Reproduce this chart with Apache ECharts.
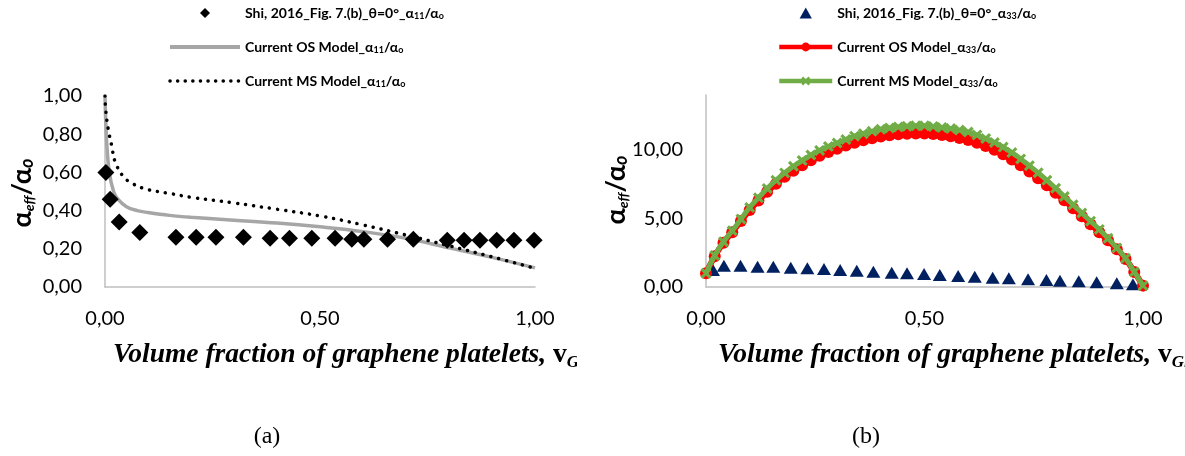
<!DOCTYPE html>
<html><head><meta charset="utf-8">
<script src="https://cdn.jsdelivr.net/npm/echarts@6/dist/echarts.min.js"></script>
<style>html,body{margin:0;padding:0;background:#fff}#c{width:1185px;height:456px}</style>
</head><body><div id="c"></div><script>
// ---------- DATA: panel (a) ----------
const xShiA = [0.002,0.012,0.033,0.081,0.165,0.212,0.258,0.322,0.384,0.429,0.481,0.535,0.574,0.602,0.657,0.717,0.796,0.835,0.872,0.911,0.951,0.998];
const yShiA = [0.60,0.46,0.34,0.285,0.26,0.26,0.26,0.26,0.255,0.255,0.255,0.255,0.25,0.25,0.25,0.25,0.245,0.245,0.245,0.245,0.245,0.245];
const xOSA = [0,0.002,0.005,0.01,0.02,0.03,0.05,0.075,0.1,0.15,0.2,0.3,0.4,0.5,0.6,0.7,0.8,0.9,1.0];
const yOSA = [1.0,0.85,0.72,0.60,0.50,0.46,0.42,0.40,0.39,0.375,0.365,0.35,0.335,0.315,0.29,0.255,0.205,0.155,0.10];
const xMSA = [0,0.002,0.008,0.016,0.023,0.042,0.065,0.1,0.15,0.2,0.3,0.4,0.5,0.6,0.7,0.8,0.9,1.0];
const yMSA = [1.0,0.92,0.82,0.735,0.66,0.58,0.54,0.51,0.49,0.47,0.44,0.407,0.372,0.325,0.272,0.216,0.158,0.098];
// ---------- DATA: panel (b) ----------
const xShiB = [0.016,0.041,0.079,0.118,0.154,0.194,0.232,0.27,0.307,0.345,0.383,0.425,0.46,0.499,0.535,0.577,0.615,0.656,0.693,0.737,0.779,0.81,0.853,0.894,0.94,0.977];
const yShiB = [1.24,1.55,1.55,1.48,1.48,1.41,1.36,1.31,1.24,1.19,1.12,1.04,1.0,0.95,0.88,0.80,0.75,0.68,0.63,0.56,0.51,0.46,0.42,0.34,0.27,0.20];
const xModelB = [0,0.02,0.04,0.06,0.08,0.10,0.12,0.14,0.16,0.18,0.20,0.22,0.24,0.26,0.28,0.30,0.32,0.34,0.36,0.38,0.40,0.42,0.44,0.46,0.48,0.50,0.52,0.54,0.56,0.58,0.60,0.62,0.64,0.66,0.68,0.70,0.72,0.74,0.76,0.78,0.80,0.82,0.84,0.86,0.88,0.90,0.92,0.94,0.96,0.98,1.00];
const yOSB = [1.00,2.25,3.22,4.00,4.82,5.62,6.30,6.95,7.52,8.03,8.48,8.88,9.25,9.57,9.85,10.08,10.31,10.52,10.70,10.85,10.98,11.07,11.14,11.18,11.20,11.19,11.15,11.08,10.99,10.87,10.72,10.52,10.28,10.00,9.68,9.30,8.88,8.42,7.93,7.42,6.88,6.32,5.75,5.16,4.58,4.00,3.40,2.75,2.05,1.10,0.10];
const yMSB = [1.00,2.30,3.30,4.10,4.95,5.80,6.50,7.18,7.78,8.32,8.80,9.22,9.62,9.96,10.25,10.50,10.75,11.00,11.18,11.35,11.50,11.59,11.67,11.72,11.75,11.75,11.70,11.63,11.55,11.44,11.30,11.08,10.83,10.54,10.20,9.80,9.34,8.85,8.33,7.78,7.20,6.60,6.00,5.40,4.80,4.20,3.55,2.85,2.10,1.10,0.10];
// ---------- ticks & names ----------
const xTicks = [0, 0.5, 1];
const yTicksA = [0, 0.2, 0.4, 0.6, 0.8, 1.0];
const yTicksB = [0, 5, 10];
const namesA = ['Shi, 2016_Fig. 7.(b)_θ=0°_α11/αo','Current OS Model_α11/αo','Current MS Model_α11/αo'];
const namesB = ['Shi, 2016_Fig. 7.(b)_θ=0°_α33/αo','Current OS Model_α33/αo','Current MS Model_α33/αo'];

const zip = (xs, ys) => xs.map((x, i) => [x, ys[i]]);
const fmt2 = v => v.toFixed(2).replace('.', ',');
const FONT = 'Lato, "Liberation Sans", sans-serif';
const SERIF = '"Liberation Serif", "DejaVu Serif", serif';
const legendFmt = n => n.replace(/α(\d\d)\/αo$/, 'α{s|$1}/α{s|o}');
const legendText = {fontFamily: FONT, fontWeight: 'bold', fontSize: 14, color: '#000', lineHeight: 16,
  rich: {s: {fontFamily: FONT, fontWeight: 'bold', fontSize: 9, lineHeight: 16, verticalAlign: 'bottom', padding: [5,0,0,0]}}};
const axisLineStyle = {show: true, lineStyle: {color: '#BFBFBF', width: 1.5}};
const lbl = {fontFamily: FONT, fontSize: 20, color: '#000'};

const chart = echarts.init(document.getElementById('c'), null, {renderer: 'canvas'});
const crossPath = 'path://M2,0 L5,3 L8,0 L10,2 L7,5 L10,8 L8,10 L5,7 L2,10 L0,8 L3,5 L0,2 Z';
const diamondPath = 'path://M5,0 L10,5 L5,10 L0,5 Z';
const trianglePath = 'path://M5,0 L10,9 L0,9 Z';

const yTitle = (x, y) => ({type: 'text', x: x, y: y, rotation: Math.PI / 2, z: 10,
  style: {text: '{a|α}{e|eff}{a|/α}{o|o}', align: 'center', verticalAlign: 'middle', fill: '#000',
    rich: {a: {fontFamily: FONT, fontSize: 27, fontWeight: 'bold', fill: '#000', lineHeight: 28},
           e: {fontFamily: FONT, fontSize: 14, fontWeight: 'bold', fontStyle: 'italic', fill: '#000', lineHeight: 28, verticalAlign: 'bottom', padding: [8,0,0,0]},
           o: {fontFamily: FONT, fontSize: 18, fontWeight: 'bold', fontStyle: 'italic', fill: '#000', lineHeight: 28, verticalAlign: 'bottom', padding: [4,0,0,0]}}}});
const xTitle = (x, y) => ({type: 'text', x: x, y: y, z: 10,
  style: {text: 'Volume fraction of graphene platelets, {v|v}{g|Gi}', align: 'left', verticalAlign: 'middle', fill: '#000',
    fontFamily: SERIF, fontSize: 27.5, fontWeight: 'bold', fontStyle: 'italic', lineHeight: 32,
    rich: {v: {fontFamily: SERIF, fontSize: 27.5, fontWeight: 'bold', fontStyle: 'normal', fill: '#000', lineHeight: 32},
           g: {fontFamily: SERIF, fontSize: 17, fontWeight: 'bold', fontStyle: 'italic', fill: '#000', lineHeight: 32, verticalAlign: 'bottom', padding: [12,0,0,0]}}}});

const hideSym = {opacity: 0};
chart.setOption({
  animation: false,
  backgroundColor: '#fff',
  grid: [
    {left: 105, top: 96, width: 430, height: 191, containLabel: false},
    {left: 706, top: 95, width: 437, height: 192, containLabel: false}
  ],
  legend: [
    {data: [{name: namesA[0], icon: diamondPath},
            {name: namesA[1], itemStyle: hideSym, lineStyle: {width: 4, color: '#A6A6A6'}},
            {name: namesA[2], itemStyle: hideSym, lineStyle: {width: 3.5, color: '#000', type: [0.1, 7.5], cap: 'round'}}],
     orient: 'vertical', left: 168, top: 5, padding: 0, itemWidth: 70, itemHeight: 10, itemGap: 18, symbolKeepAspect: true,
     formatter: legendFmt, textStyle: legendText},
    {data: [{name: namesB[0], icon: trianglePath},
            {name: namesB[1], lineStyle: {width: 4.5, color: '#FF0000'}},
            {name: namesB[2], lineStyle: {width: 4.5, color: '#70AD47'}}],
     orient: 'vertical', left: 777, top: 5, padding: 0, itemWidth: 53, itemHeight: 11, itemGap: 18, symbolKeepAspect: true,
     formatter: legendFmt, textStyle: legendText}
  ],
  xAxis: [
    {type: 'value', gridIndex: 0, min: 0, max: 1, interval: 0.5, axisLine: axisLineStyle, axisTick: {show: false}, splitLine: {show: false},
     axisLabel: Object.assign({margin: 22, formatter: fmt2, customValues: xTicks}, lbl)},
    {type: 'value', gridIndex: 1, min: 0, max: 1, interval: 0.5, axisLine: axisLineStyle, axisTick: {show: false}, splitLine: {show: false},
     axisLabel: Object.assign({margin: 22, formatter: fmt2, customValues: xTicks}, lbl)}
  ],
  yAxis: [
    {type: 'value', gridIndex: 0, min: 0, max: 1, interval: 0.2, axisLine: axisLineStyle, axisTick: {show: false}, splitLine: {show: false},
     axisLabel: Object.assign({margin: 23, formatter: fmt2, customValues: yTicksA}, lbl)},
    {type: 'value', gridIndex: 1, min: 0, max: 14, interval: 5, axisLine: axisLineStyle, axisTick: {show: false}, splitLine: {show: false},
     axisLabel: Object.assign({margin: 23, formatter: fmt2, customValues: yTicksB}, lbl)}
  ],
  series: [
    {name: namesA[1], type: 'line', xAxisIndex: 0, yAxisIndex: 0, data: zip(xOSA, yOSA), smooth: 0.4, symbol: 'none',
     lineStyle: {color: '#A6A6A6', width: 3.5}, itemStyle: {color: '#A6A6A6'}, z: 2},
    {name: namesA[2], type: 'line', xAxisIndex: 0, yAxisIndex: 0, data: zip(xMSA, yMSA), smooth: 0.4, symbol: 'none',
     lineStyle: {color: '#000', width: 3.5, type: [0.1, 8], cap: 'round'}, itemStyle: {color: '#000'}, z: 3},
    {name: namesA[0], type: 'scatter', xAxisIndex: 0, yAxisIndex: 0, data: zip(xShiA, yShiA), symbol: 'diamond', symbolSize: 17,
     itemStyle: {color: '#000', opacity: 1}, z: 4},
    {name: namesB[0], type: 'scatter', xAxisIndex: 1, yAxisIndex: 1, data: zip(xShiB, yShiB), symbol: 'triangle', symbolSize: [14, 12],
     itemStyle: {color: '#002060', opacity: 1}, z: 2},
    {name: namesB[1], type: 'line', xAxisIndex: 1, yAxisIndex: 1, data: zip(xModelB, yOSB), smooth: true, symbol: 'circle', symbolSize: 12, showAllSymbol: true,
     lineStyle: {color: '#FF0000', width: 6}, itemStyle: {color: '#FF0000'}, z: 3},
    {name: namesB[2], type: 'line', xAxisIndex: 1, yAxisIndex: 1, data: zip(xModelB, yMSB), smooth: true, symbol: crossPath, symbolSize: 11, showAllSymbol: true,
     lineStyle: {color: '#70AD47', width: 5}, itemStyle: {color: '#70AD47'}, z: 4}
  ],
  graphic: [
    yTitle(22, 193), yTitle(616, 190),
    xTitle(113, 355), xTitle(718, 355),
    {type: 'rect', shape: {x: 577, y: 330, width: 13, height: 55}, style: {fill: '#fff'}, z: 20},
    {type: 'text', x: 267, y: 437, style: {text: '(a)', align: 'center', verticalAlign: 'middle', fontFamily: SERIF, fontSize: 24, fill: '#000'}},
    {type: 'text', x: 866, y: 437, style: {text: '(b)', align: 'center', verticalAlign: 'middle', fontFamily: SERIF, fontSize: 24, fill: '#000'}}
  ]
});
</script></body></html>
